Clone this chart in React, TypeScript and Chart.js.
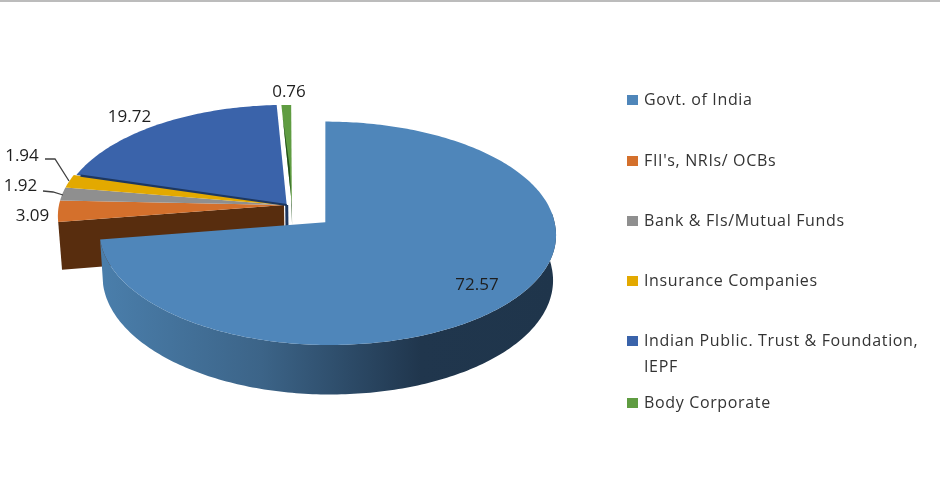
import { useEffect, useRef } from "react";
import { Chart, registerables } from "chart.js";

Chart.register(...registerables);

const categories = [
  "Govt. of India",
  "FII's, NRIs/ OCBs",
  "Bank & FIs/Mutual Funds",
  "Insurance Companies",
  "Indian Public. Trust & Foundation, IEPF",
  "Body Corporate",
];
const values = [72.57, 3.09, 1.92, 1.94, 19.72, 0.76];
const colors = ["#4f86ba", "#d4702c", "#8f8f8f", "#e3a900", "#3a63aa", "#5f9c41"];
const explode = [53, 0, 0, 0, 0, 0];

// pie centre, radii and tilt of the fake 3D view
const CX = 284;
const CY = 205;
const RX = 225;
const RY = 110;
const PERSP = 0.099;
const DEPTH_BIG = 44;
const DEPTH_CUT = 47;
const VIEW_X = 329;
const nudges = [0, 0, 0, 0, 0.012, 0.035];

const labelSpots = [
  [477, 285],
  [32.5, 216],
  [20.5, 186],
  [22, 156],
  [129.5, 117],
  [289, 92],
];
const legendRows = [100, 161, 221, 281, 341, 403];

type Pt = [number, number];

function project(u: number, v: number, depth = 0): Pt {
  const s = 1 / (1 - PERSP * v);
  let x = CX + RX * u * s;
  const y = CY + RY * v * s + depth * s;
  if (depth) x = VIEW_X + (x - VIEW_X) * (1 - 0.0003 * depth);
  return [x, y];
}

function fillPoly(ctx: CanvasRenderingContext2D, pts: Pt[], fill: string | CanvasGradient) {
  ctx.beginPath();
  pts.forEach((p, i) => (i ? ctx.lineTo(p[0], p[1]) : ctx.moveTo(p[0], p[1])));
  ctx.closePath();
  ctx.fillStyle = fill;
  ctx.fill();
}

function polyLine(ctx: CanvasRenderingContext2D, pts: Pt[]) {
  ctx.beginPath();
  pts.forEach((p, i) => (i ? ctx.lineTo(p[0], p[1]) : ctx.moveTo(p[0], p[1])));
  ctx.stroke();
}

// reads the angles chart.js worked out for each arc, draws them tilted
const pie3d = {
  id: "pie3d",
  beforeDatasetsDraw(chart: any) {
    const ctx: CanvasRenderingContext2D = chart.ctx;
    const arcs = chart.getDatasetMeta(0).data;

    const geo = arcs.map((arc: any, i: number) => {
      const mid = (arc.startAngle + arc.endAngle) / 2;
      const e = arc.options.offset / arc.outerRadius;
      const ou = e * Math.cos(mid) + nudges[i];
      const ov = e * Math.sin(mid);
      const at = (a: number, r = 1, d = 0) => {
        const c = Math.cos(a);
        const sn = Math.sin(a);
        // the pulled out slice is a little narrower on its far side,
        // and its back edge stands upright
        if (i === 0) {
          const lean = Math.max(0, -sn) * 0.018;
          return project(ou + r * (c * 0.985 + Math.max(0, c) * 0.018 + lean), ov + r * sn * 0.975, d);
        }
        return project(ou + r * c, ov + r * sn, d);
      };
      const rimAngles = () => {
        const list: number[] = [];
        const n = Math.max(3, Math.ceil((arc.endAngle - arc.startAngle) * 60));
        for (let k = 0; k <= n; k++) {
          list.push(arc.startAngle + ((arc.endAngle - arc.startAngle) * k) / n);
        }
        return list;
      };
      return { arc, at, rimAngles };
    });

    // cut face of the orange slice
    const o = geo[1];
    fillPoly(
      ctx,
      [
        o.at(o.arc.startAngle, 0),
        o.at(o.arc.startAngle, 1),
        o.at(o.arc.startAngle, 1, DEPTH_CUT),
        o.at(o.arc.startAngle, 0, DEPTH_CUT),
      ],
      "#582d0e",
    );

    // small slices, top faces
    for (const i of [1, 2, 3, 4, 5]) {
      const g = geo[i];
      fillPoly(ctx, [g.at(0, 0), ...g.rimAngles().map((a: number) => g.at(a))], colors[i]);
    }

    // dark seams between the top faces and the walls under the apex
    const ind = geo[4];
    ctx.strokeStyle = "#1d3760";
    ctx.lineWidth = 2.2;
    polyLine(ctx, [ind.at(ind.arc.startAngle, 0.98), ind.at(ind.arc.startAngle, 0)]);
    ctx.lineWidth = 3;
    polyLine(ctx, [ind.at(0, 0), ind.at(0, 0, 22)]);

    const gr = geo[5];
    const gMid = (gr.arc.startAngle + gr.arc.endAngle) / 2;
    fillPoly(
      ctx,
      [
        gr.at(gr.arc.startAngle, 0.87),
        gr.at(gMid, 0.35),
        gr.at(0, 0, 20),
        gr.at(0, 0, 0),
      ],
      "#234f1c",
    );

    // outer wall of the big slice, only the part facing the viewer
    const b = geo[0];
    const front = b.rimAngles().filter((a: number) => Math.sin(a) > -0.1);
    const wall = ctx.createLinearGradient(102, 0, 557, 0);
    wall.addColorStop(0, "#4a7eab");
    wall.addColorStop(0.35, "#3c6488");
    wall.addColorStop(0.7, "#20364d");
    wall.addColorStop(1, "#1f354b");
    fillPoly(
      ctx,
      [
        ...front.map((a: number) => b.at(a)),
        ...front.map((a: number) => b.at(a, 1, DEPTH_BIG)).reverse(),
      ],
      wall,
    );
    // top face
    fillPoly(ctx, [b.at(0, 0), ...b.rimAngles().map((a: number) => b.at(a))], colors[0]);

    // value labels
    ctx.font = "17px 'Open Sans'";
    ctx.fillStyle = "#1e1e1e";
    ctx.textAlign = "center";
    ctx.textBaseline = "middle";
    values.forEach((val, i) => {
      ctx.fillText(val.toFixed(2), labelSpots[i][0], labelSpots[i][1]);
    });

    // leader lines
    ctx.strokeStyle = "#404040";
    ctx.lineWidth = 1.3;
    polyLine(ctx, [[45, 159], [55, 159], [69, 181]]);
    polyLine(ctx, [[43, 191], [53, 192], [63, 195]]);

    return false;
  },
};

export default function App() {
  const canvasRef = useRef<HTMLCanvasElement>(null);

  useEffect(() => {
    if (!canvasRef.current) return;
    const chart = new Chart(canvasRef.current, {
      type: "pie",
      data: {
        labels: categories,
        datasets: [
          {
            data: values,
            backgroundColor: colors,
            offset: explode,
            borderWidth: 0,
          },
        ],
      },
      options: {
        animation: false,
        responsive: false,
        devicePixelRatio: 1,
        plugins: {
          legend: { display: false },
          tooltip: { enabled: false },
        },
      },
      plugins: [pie3d],
    });
    return () => chart.destroy();
  }, []);

  return (
    <div
      style={{
        position: "absolute",
        left: 0,
        top: 0,
        width: 940,
        height: 498,
        overflow: "hidden",
        background: "#ffffff",
      }}
    >
      <canvas ref={canvasRef} width={940} height={498} style={{ display: "block" }} />
      <div style={{ position: "absolute", left: 0, top: 0, width: 940, height: 1.5, background: "#bcbcbc" }} />
      {categories.map((name, i) => (
        <div
          key={name}
          style={{
            position: "absolute",
            left: 627,
            top: legendRows[i] - 14,
            width: 313,
            fontFamily: "'Open Sans', sans-serif",
            fontSize: 16,
            lineHeight: "26px",
            color: "#333333",
            letterSpacing: 0.65,
            whiteSpace: "nowrap",
          }}
        >
          <span
            style={{
              position: "absolute",
              left: 0,
              top: 9,
              width: 11,
              height: 10,
              background: colors[i],
            }}
          />
          <span style={{ position: "absolute", left: 17, top: 0 }}>
            {i === 4 ? (
              <>
                Indian Public. Trust &amp; Foundation,
                <br />
                IEPF
              </>
            ) : (
              name
            )}
          </span>
        </div>
      ))}
    </div>
  );
}
